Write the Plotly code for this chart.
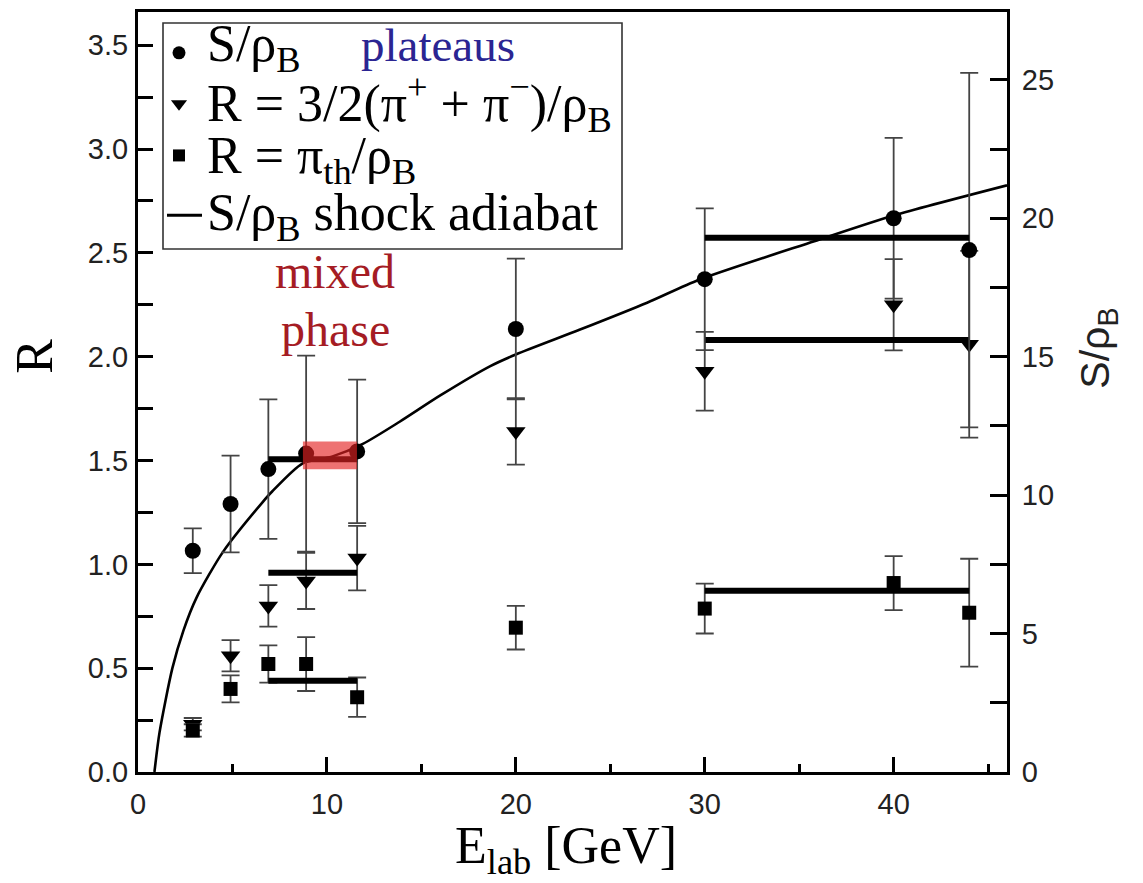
import plotly.graph_objects as go

# ---------------- data ----------------
E_lab = [2.9, 4.9, 6.9, 8.9, 11.6, 20, 30, 40, 44]

# entropy per baryon S/rho_B (right axis)
s_rho = [7.99, 9.68, 10.94, 11.5, 11.58, 16.0, 17.8, 20.0, 18.85]
s_rho_err = [0.81, 1.75, 2.52, 3.54, 2.59, 2.54, 2.56, 2.9, 6.4]

# R = 3/2 (pi+ + pi-)/rho_B (left axis)
R_pi = [0.23, 0.56, 0.80, 0.92, 1.03, 1.64, 1.93, 2.25, 2.06]
R_pi_err = [0.03, 0.075, 0.10, 0.135, 0.155, 0.16, 0.19, 0.22, 0.45]

# R = pi_th/rho_B (left axis)
R_th = [0.20, 0.40, 0.52, 0.52, 0.36, 0.695, 0.787, 0.91, 0.767]
R_th_err = [0.03, 0.065, 0.09, 0.13, 0.095, 0.105, 0.12, 0.13, 0.26]

# plateaus (AGS and SPS energy ranges)
plateau_E_ags = [6.9, 11.6]
plateau_E_sps = [30, 44]
plateau_s = [11.3, 19.3]        # S/rho_B  (AGS, SPS)
plateau_R_pi = [0.96, 2.08]     # R pions  (AGS, SPS)
plateau_R_th = [0.44, 0.873]    # R thermal pions (AGS, SPS)

# S/rho_B along the shock adiabat
adiabat_E = [0.87, 1.14, 1.82, 2.4, 3.1, 4.5, 6.6, 7.1, 8.7, 10.3, 11.9, 13.85,
             16, 18.65, 20, 23.4, 26.95, 29.7, 35.8, 40, 46]
adiabat_S = [0, 1.43, 3.75, 5.1, 6.3, 7.95, 9.75, 10.13, 11.14, 11.4, 11.85, 12.65,
             13.6, 14.66, 15.08, 15.98, 16.95, 17.78, 19.17, 20.1, 21.19]

# mixed phase band
mixed_phase_E = [8.73, 11.59]
mixed_phase_R = [1.458, 1.592]

R_range = [0, 3.66]
S_per_R = 7.5
x_range = [0, 46]

# ---------------- figure ----------------
W, H = 1143, 883
ML, MR, MT, MB = 138, 136, 9, 111
PW, PH = W - ML - MR, H - MT - MB


def xp(px):
    return (px - ML) / PW


def yp(py):
    return (H - MB - py) / PH


fig = go.Figure()

err_style = dict(type="data", thickness=1.8, width=9, color="#444444")

fig.add_trace(go.Scatter(x=adiabat_E, y=adiabat_S, yaxis="y2", mode="lines",
                         line=dict(color="black", width=2.6, shape="spline", smoothing=0.7),
                         showlegend=False, hoverinfo="skip"))

fig.add_trace(go.Scatter(x=E_lab, y=s_rho, yaxis="y2", mode="markers",
                         marker=dict(symbol="circle", size=16, color="black"),
                         error_y=dict(array=s_rho_err, **err_style), showlegend=False))
fig.add_trace(go.Scatter(x=E_lab, y=R_pi, mode="markers",
                         marker=dict(symbol="triangle-down", size=17, color="black"),
                         error_y=dict(array=R_pi_err, **err_style), showlegend=False))
fig.add_trace(go.Scatter(x=E_lab, y=R_th, mode="markers",
                         marker=dict(symbol="square", size=14, color="black"),
                         error_y=dict(array=R_th_err, **err_style), showlegend=False))

plat_line = dict(color="black", width=6)
for i, rng in enumerate([plateau_E_ags, plateau_E_sps]):
    fig.add_trace(go.Scatter(x=rng, y=[plateau_s[i]] * 2, yaxis="y2", mode="lines",
                             line=plat_line, showlegend=False, hoverinfo="skip"))
    fig.add_trace(go.Scatter(x=rng, y=[plateau_R_pi[i]] * 2, mode="lines",
                             line=plat_line, showlegend=False, hoverinfo="skip"))
    fig.add_trace(go.Scatter(x=rng, y=[plateau_R_th[i]] * 2, mode="lines",
                             line=plat_line, showlegend=False, hoverinfo="skip"))

# legend keys on a hidden overlay axis (paper-like 0..1 coordinates)
key_x = xp(179)
fig.add_trace(go.Scatter(x=[key_x], y=[yp(50)], xaxis="x3", yaxis="y3", mode="markers",
                         marker=dict(symbol="circle", size=13, color="black"),
                         showlegend=False, hoverinfo="skip"))
fig.add_trace(go.Scatter(x=[key_x], y=[yp(101)], xaxis="x3", yaxis="y3", mode="markers",
                         marker=dict(symbol="triangle-down", size=14, color="black"),
                         showlegend=False, hoverinfo="skip"))
fig.add_trace(go.Scatter(x=[key_x], y=[yp(153)], xaxis="x3", yaxis="y3", mode="markers",
                         marker=dict(symbol="square", size=12, color="black"),
                         showlegend=False, hoverinfo="skip"))
fig.add_trace(go.Scatter(x=[xp(167), xp(202)], y=[yp(213), yp(213)], xaxis="x3", yaxis="y3",
                         mode="lines", line=dict(color="black", width=3),
                         showlegend=False, hoverinfo="skip"))

serif = "Liberation Serif, Times New Roman, serif"
sans = "Liberation Sans, Arial, sans-serif"

shapes = [
    dict(type="rect", xref="x", yref="y", x0=mixed_phase_E[0], x1=mixed_phase_E[1],
         y0=mixed_phase_R[0], y1=mixed_phase_R[1], fillcolor="rgba(228,35,35,0.64)",
         line=dict(width=0), layer="above"),
    dict(type="rect", xref="paper", yref="paper", x0=xp(163), x1=xp(622), y0=yp(247), y1=yp(20),
         line=dict(color="#333333", width=1.6), fillcolor="rgba(0,0,0,0)", layer="above"),
]

leg_font = dict(family=serif, size=52, color="black")
annotations = [
    dict(text="S/ρ<sub>B</sub>", x=xp(205), y=yp(45), xanchor="left", yanchor="middle"),
    dict(text="R = 3/2(π<sup>+</sup> + π<sup>−</sup>)/ρ<sub>B</sub>", x=xp(205), y=yp(101),
         xanchor="left", yanchor="middle"),
    dict(text="R = π<sub>th</sub>/ρ<sub>B</sub>", x=xp(205), y=yp(157), xanchor="left",
         yanchor="middle"),
    dict(text="S/ρ<sub>B</sub> shock adiabat", x=xp(205), y=yp(214), xanchor="left",
         yanchor="middle"),
]
for a in annotations:
    a.update(xref="paper", yref="paper", showarrow=False, font=leg_font)

annotations += [
    dict(text="plateaus", x=xp(438), y=yp(42), xanchor="center", yanchor="middle",
         font=dict(family=serif, size=47, color="#2b2592")),
    dict(text="mixed", x=xp(335), y=yp(270), xanchor="center", yanchor="middle",
         font=dict(family=serif, size=48, color="#a51c24")),
    dict(text="phase", x=xp(335), y=yp(328), xanchor="center", yanchor="middle",
         font=dict(family=serif, size=48, color="#a51c24")),
    dict(text="R", x=xp(35), y=yp(355), xanchor="center", yanchor="middle", textangle=-90,
         font=dict(family=serif, size=52, color="black")),
    dict(text="S/ρ<sub>B</sub>", x=xp(1098), y=yp(347), xanchor="center", yanchor="middle",
         textangle=-90, font=dict(family=sans, size=41, color="#222222")),
    dict(text="E<sub>lab</sub> [GeV]", x=xp(566), y=yp(850), xanchor="center",
         yanchor="middle", font=dict(family=serif, size=52, color="black")),
]
for a in annotations[4:]:
    a.update(xref="paper", yref="paper", showarrow=False)

tickfont = dict(family=sans, size=29, color="#222222")

fig.update_layout(
    width=W, height=H,
    margin=dict(l=ML, r=MR, t=MT, b=MB, pad=0),
    paper_bgcolor="white", plot_bgcolor="white",
    showlegend=False,
    shapes=shapes, annotations=annotations,
    xaxis=dict(range=x_range, dtick=10, tick0=0, ticks="inside", ticklen=15, tickwidth=2.5,
               tickcolor="black", showline=True, linewidth=3, linecolor="black", mirror=True,
               showgrid=False, zeroline=False, tickfont=tickfont, ticklabelstandoff=4,
               minor=dict(dtick=5, ticks="inside", ticklen=8, tickwidth=2.5, tickcolor="black")),
    yaxis=dict(range=R_range, dtick=0.5, tick0=0, tickformat=".1f", ticks="inside",
               ticklen=15, tickwidth=2.5, tickcolor="black", showline=True, linewidth=3,
               linecolor="black", showgrid=False, zeroline=False, tickfont=tickfont,
               ticklabelstandoff=1,
               minor=dict(dtick=0.25, ticks="inside", ticklen=15, tickwidth=2.5,
                          tickcolor="black")),
    yaxis2=dict(range=[R_range[0] * S_per_R, R_range[1] * S_per_R], overlaying="y",
                side="right", dtick=5, tick0=0, ticks="inside", ticklen=17, tickwidth=2.5,
                tickcolor="black", showline=True, linewidth=3, linecolor="black",
                showgrid=False, zeroline=False, tickfont=tickfont, ticklabelstandoff=6,
                minor=dict(dtick=2.5, ticks="inside", ticklen=17, tickwidth=2.5,
                           tickcolor="black")),
    xaxis3=dict(overlaying="x", range=[0, 1], visible=False, fixedrange=True),
    yaxis3=dict(overlaying="y", range=[0, 1], visible=False, fixedrange=True),
)

fig.write_html("out.html")
